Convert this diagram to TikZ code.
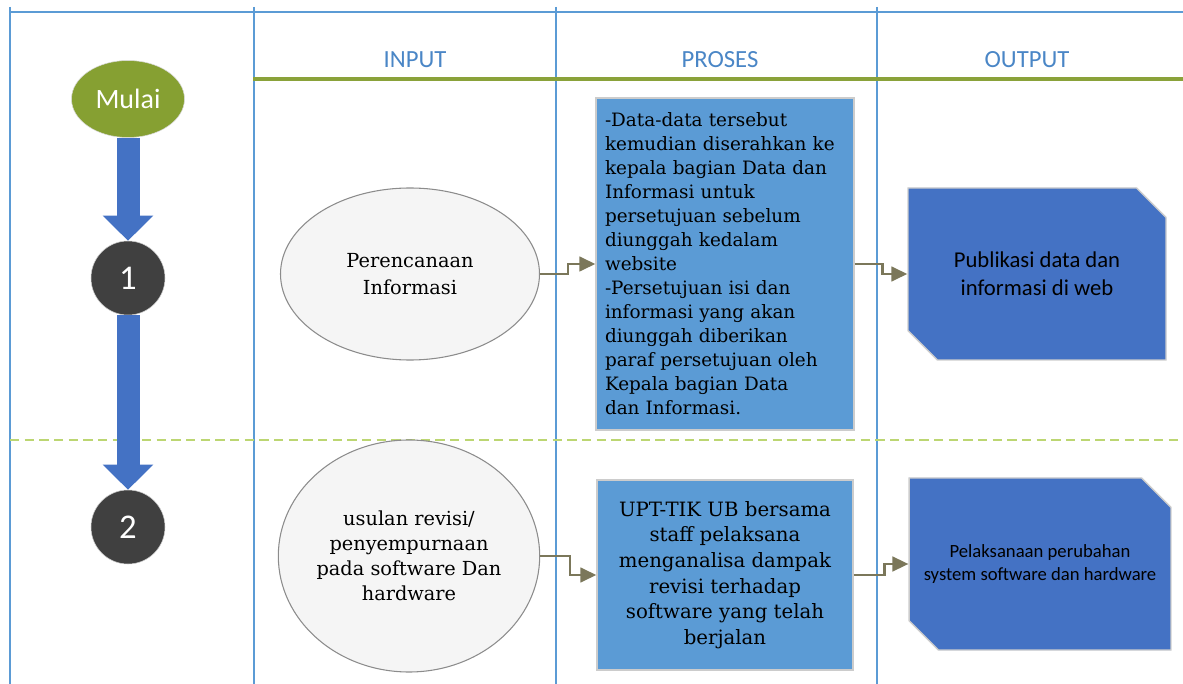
\documentclass[tikz,border=0pt]{standalone}
\usepackage{fontspec}
\setmainfont{DejaVu Serif}
\newfontfamily\calib{Carlito}
\usetikzlibrary{shapes.geometric,shapes.misc,arrows.meta}
\definecolor{gridblue}{HTML}{5B9BD5}
\definecolor{headgreen}{HTML}{8AA23A}
\definecolor{rowgreen}{HTML}{BCD672}
\definecolor{headtext}{HTML}{4A86C6}
\definecolor{startgreen}{HTML}{86A032}
\definecolor{bigblue}{HTML}{4472C4}
\definecolor{stepgray}{HTML}{404040}
\definecolor{procblue}{HTML}{5B9BD5}
\definecolor{connc}{HTML}{7B775A}

\begin{document}
\begin{tikzpicture}[x=0.75pt,y=-0.75pt,
    grid/.style={draw=gridblue,line width=1.5pt},
    head/.style={text=headtext,font=\calib\fontsize{18.5}{22}\selectfont},
    bigarrow/.style={draw=bigblue,line width=17.25pt,
        -{Triangle[length=18.75pt,width=36.75pt]}},
    conn/.style={draw=connc,line width=1.9pt,
        -{Triangle[length=12pt,width=11pt]}}]

    % the shapes
    \tikzstyle{start}=[ellipse,fill=startgreen,draw=black!15,minimum
      width=84.75pt,minimum height=57.75pt,inner sep=0pt,text=white,
      font=\calib\fontsize{21}{25}\selectfont]
    \tikzstyle{stepnum}=[circle,fill=stepgray,draw=black!20,minimum
      size=55.5pt,inner sep=0pt,text=white,
      font=\calib\fontsize{26}{30}\selectfont]
    \tikzstyle{inputbox}=[ellipse,fill=black!4,draw=black!45,
      line width=0.8pt,inner sep=0pt,align=center]
    \tikzstyle{procbox}=[rectangle,fill=procblue,draw=black!20,
      line width=1pt,inner sep=0pt]
    \tikzstyle{outbox}=[chamfered rectangle,chamfered rectangle
      corners={north east,south west},chamfered rectangle xsep=11pt,
      chamfered rectangle ysep=11pt,fill=bigblue,draw=black!20,
      line width=1pt,inner sep=0pt,align=center]

    \useasboundingbox (0,0) rectangle (1183,684);

    % the lanes
    \draw[grid] (10,12) -- (1183,12);
    \foreach \x in {10,254,556,877}
      \draw[grid] (\x,7) -- (\x,684);
    \draw[draw=headgreen,line width=2.3pt] (253,79) -- (1183,79);
    \draw[draw=rowgreen,line width=1.5pt,dash pattern=on 7pt off 4pt]
      (10,440) -- (1183,440);

    \node[head] (hin) at (415,60) {INPUT};
    \node[head] (hproc) at (720,60) {PROSES};
    \node[head] (hout) at (1027,60) {OUTPUT};

    % the steps
    \node[start] (mulai) at (128,99) {Mulai};
    \node[stepnum] (s1) at (128,278) {1};
    \node[stepnum] (s2) at (128,527) {2};

    \draw[bigarrow] (mulai.south) -- (s1.north);
    \draw[bigarrow] (s1.south) -- (s2.north);

    % the texts
    \node[inputbox,minimum width=194.25pt,minimum height=129pt,
      font=\fontsize{14.5}{20}\selectfont] (in1) at (410,274)
      {Perencanaan\\Informasi};
    \node[inputbox,minimum width=193.5pt,minimum height=174pt,
      font=\fontsize{14.5}{18.8}\selectfont] (in2) at (409,556)
      {usulan revisi/\\penyempurnaan\\pada software Dan\\hardware};

    \node[procbox,minimum width=193.5pt,minimum height=249pt,
      text width=180pt,align=left,
      font=\fontsize{13.8}{18}\selectfont] (proc1) at (725,264)
      {-Data-data tersebut\\kemudian diserahkan ke\\kepala bagian Data dan\\
       Informasi untuk\\persetujuan sebelum\\diunggah kedalam\\website\\
       -Persetujuan isi dan\\informasi yang akan\\diunggah diberikan\\
       paraf persetujuan oleh\\Kepala bagian Data\\dan Informasi.};
    \node[procbox,minimum width=192pt,minimum height=142.5pt,
      align=center,font=\fontsize{14.8}{19.2}\selectfont] (proc2)
      at (725,575)
      {UPT-TIK UB bersama\\staff pelaksana\\menganalisa dampak\\
       revisi terhadap\\software yang telah\\berjalan};

    \node[outbox,minimum width=193.5pt,minimum height=129pt,
      font=\calib\fontsize{17}{21}\selectfont] (out1) at (1037,274)
      {Publikasi data dan\\informasi di web};
    \node[outbox,minimum width=194.25pt,minimum height=129pt,
      font=\calib\fontsize{14}{17.5}\selectfont] (out2) at (1040,564)
      {Pelaksanaan perubahan\\system software dan hardware};

    % the connectors
    \draw[conn] (in1.east) -- ++(28,0) |- (proc1.west);
    \draw[conn] (proc1.east) -- ++(28,0) |- (out1.west);
    \draw[conn] (in2.east) -- ++(30,0) |- (proc2.west);
    \draw[conn] (proc2.east) -- ++(31,0) |- (out2.west);

  \end{tikzpicture}
\end{document}
